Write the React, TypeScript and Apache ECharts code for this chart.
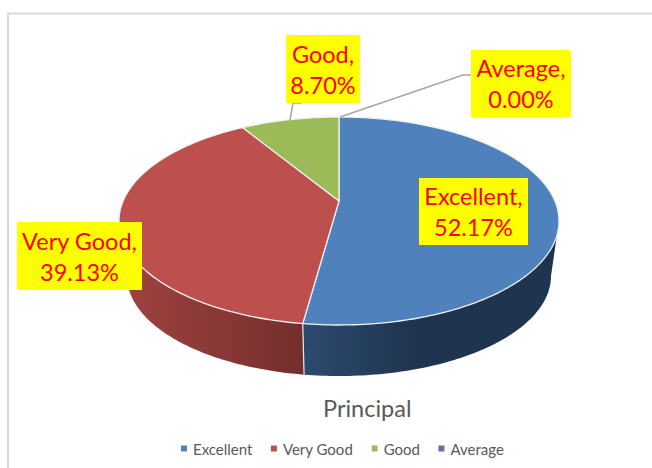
import React, { useEffect, useRef } from "react";
import * as echarts from "echarts";

const categories = ["Excellent", "Very Good", "Good", "Average"];
const percents = [52.17, 39.13, 8.7, 0.0];
const topColors = ["#4f81bd", "#bd4f4c", "#9bbb59", "#8064a2"];
const sideStops: [number, string][][] = [
  [[0, "#2c4b70"], [0.45, "#1f344e"], [1, "#1f344e"]],
  [[0, "#a04341"], [1, "#752e2d"]],
  [[0, "#6f8a3c"], [1, "#6f8a3c"]],
  [[0, "#5b4675"], [1, "#5b4675"]],
];
// Label box [left, top, right, bottom]
const labelBoxes = [
  [419, 178, 528, 245],
  [17, 222, 142, 290],
  [286, 35, 360, 103],
  [471, 50, 571, 117],
];
const leaderLines: number[][][] = [
  [],
  [],
  [[302, 103], [293, 103], [290, 120]],
  [[471, 75], [463, 75], [340, 117]],
];

const topEllipse = { cx: 339, cy: 221, rx: 220, ry: 104 };
const bottomEllipse = { cx: 339, cy: 276, rx: 212, ry: 100 };
const tilt = -0.192; // perspective shift of the pie's apex on the ellipse

type Ell = typeof topEllipse;
// a: degrees clockwise from the top of the pie
function project(a: number, e: Ell): number[] {
  const r = (a * Math.PI) / 180;
  const x = Math.sin(r);
  const y = -Math.cos(r);
  const d = 1 + tilt * y;
  const px = (x * Math.sqrt(1 - tilt * tilt)) / d;
  const py = (y + tilt) / d;
  return [e.cx + px * e.rx, e.cy + py * e.ry];
}
const apex = (e: Ell): number[] => [e.cx, e.cy + tilt * e.ry];

const frontFrom = (Math.acos(tilt) * 180) / Math.PI; // 101 deg: right extreme
const frontTo = 360 - frontFrom; // left extreme

function samples(a0: number, a1: number): number[] {
  const out: number[] = [];
  const n = Math.max(1, Math.ceil(a1 - a0));
  for (let i = 0; i <= n; i++) out.push(a0 + ((a1 - a0) * i) / n);
  return out;
}

let acc = 0;
const spans = percents.map((p) => {
  const s = [acc, acc + (p / 100) * 360];
  acc = s[1];
  return s;
});

function renderSlice(index: number) {
  return (_params: any, api: any) => {
    const a0 = api.value(0) as number;
    const a1 = api.value(1) as number;
    const children: any[] = [];
    if (a1 > a0) {
      const s0 = Math.max(a0, frontFrom);
      const s1 = Math.min(a1, frontTo);
      if (s1 > s0) {
        const as = samples(s0, s1);
        const pts = [
          ...as.map((a) => project(a, topEllipse)),
          ...as.slice().reverse().map((a) => project(a, bottomEllipse)),
        ];
        children.push({
          type: "polygon",
          shape: { points: pts },
          style: {
            fill: new echarts.graphic.LinearGradient(
              0, 0, 1, 0,
              sideStops[index].map(([offset, color]) => ({ offset, color }))
            ),
            stroke: "none",
          },
          z2: 1,
        });
        if (a1 < frontTo) {
          children.push({
            type: "line",
            shape: {
              x1: project(a1, topEllipse)[0],
              y1: project(a1, topEllipse)[1],
              x2: project(a1, bottomEllipse)[0],
              y2: project(a1, bottomEllipse)[1],
            },
            style: { stroke: "#e4e8ee", lineWidth: 1.2 },
            z2: 2,
          });
        }
      }
      const arc = samples(a0, a1).map((a) => project(a, topEllipse));
      children.push({
        type: "polygon",
        shape: { points: [apex(topEllipse), ...arc] },
        style: { fill: topColors[index], stroke: "#eef0f2", lineWidth: 1.3, lineJoin: "round" },
        z2: 3,
      });
    }
    if (leaderLines[index].length) {
      children.push({
        type: "polyline",
        shape: { points: leaderLines[index] },
        style: { stroke: "#a6a6a6", lineWidth: 1.5, fill: "none" },
        z2: 4,
      });
    }
    const [l, t, r, b] = labelBoxes[index];
    children.push({
      type: "rect",
      shape: { x: l, y: t, width: r - l, height: b - t },
      style: { fill: "#ffff00" },
      z2: 5,
    });
    children.push({
      type: "text",
      x: (l + r) / 2,
      y: (t + b) / 2,
      style: {
        text: `${categories[index]},\n${percents[index].toFixed(2)}%`,
        fill: "#ff0000",
        font: "23.5px Lato",
        lineHeight: 31,
        align: "center",
        verticalAlign: "middle",
      },
      z2: 6,
    });
    return { type: "group", children };
  };
}

export default function App() {
  const ref = useRef<HTMLDivElement>(null);
  useEffect(() => {
    const chart = echarts.init(ref.current!, undefined, { renderer: "svg" });
    chart.setOption({
      animation: false,
      backgroundColor: "#ffffff",
      title: {
        text: "Principal",
        left: 323,
        top: 396,
        padding: 0,
        textStyle: { color: "#595959", fontFamily: "Lato", fontSize: 23.5, fontWeight: "normal" },
      },
      legend: {
        data: categories,
        left: 181,
        top: 441,
        padding: 0,
        icon: "rect",
        itemWidth: 6,
        itemHeight: 6,
        itemGap: 18.5,
        textStyle: { color: "#595959", fontFamily: "Lato", fontSize: 15, padding: [0, 0, 0, 1] },
      },
      graphic: [
        {
          type: "polyline",
          shape: { points: [[8, 468], [8, 13.5], [652, 13.5]] },
          style: { stroke: "#d9d9d9", lineWidth: 2, fill: "none" },
        },
      ],
      series: categories.map((name, i) => ({
        type: "custom",
        name,
        coordinateSystem: "none",
        itemStyle: { color: topColors[i] },
        clip: false,
        silent: true,
        data: [spans[i]],
        renderItem: renderSlice(i),
      })),
    });
    return () => chart.dispose();
  }, []);
  return (
    <div
      ref={ref}
      style={{ position: "absolute", left: 0, top: 0, width: 652, height: 468, overflow: "hidden" }}
    />
  );
}
